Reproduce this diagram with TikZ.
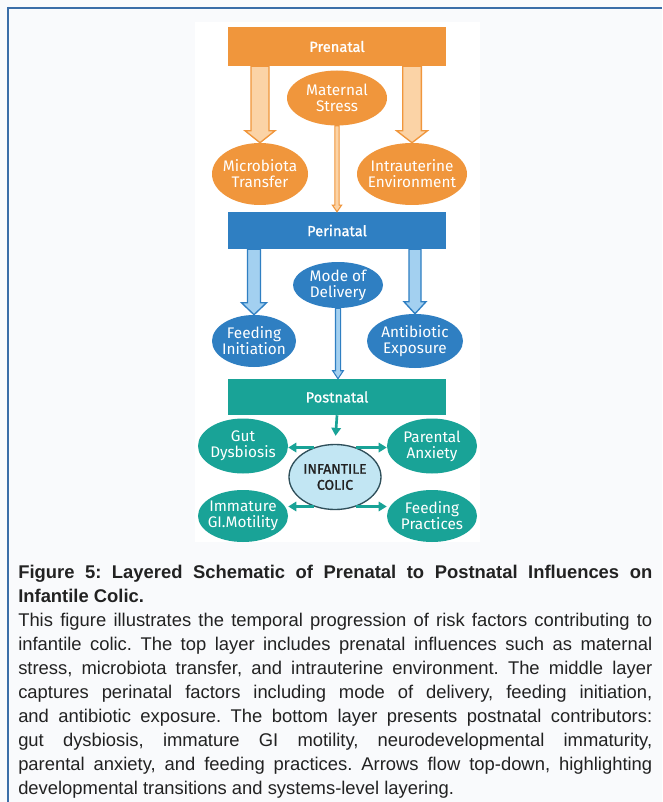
\documentclass[tikz,border=0pt]{standalone}
\usepackage{fontspec}
\setmainfont{Liberation Sans}
\newfontfamily\diagfont{Fira Sans}[BoldFont=Fira Sans, BoldFeatures={FakeBold=1.2}]
\usetikzlibrary{positioning, arrows.meta, shapes.geometric, calc}
\setlength{\parindent}{0pt}
\frenchspacing

\definecolor{preorange}{HTML}{F0963C}
\definecolor{prelight}{HTML}{FBD3A6}
\definecolor{periblue}{HTML}{2F7FC2}
\definecolor{perilight}{HTML}{A3D0F0}
\definecolor{postteal}{HTML}{19A397}
\definecolor{colicfill}{HTML}{C2E6F3}
\definecolor{colicline}{HTML}{2F4F5A}
\definecolor{framecol}{HTML}{3B6EA8}
\definecolor{pagecol}{HTML}{F9FAFC}
\definecolor{captext}{HTML}{222222}

% start, tip, half shaft, half head, head length, style
\newcommand{\blockarrow}[6]{%
  \path[#6] let \p1=(#1), \p2=(#2) in
    (\x1-#3,\y1) -- (\x1-#3,\y2+#5) -- (\x1-#4,\y2+#5) -- (\x1,\y2)
    -- (\x1+#4,\y2+#5) -- (\x1+#3,\y2+#5) -- (\x1+#3,\y1) -- cycle;}

\begin{document}
\begin{tikzpicture}[x=0.75pt, y=-0.75pt,
    bar/.style={minimum width=163.5pt, inner sep=0pt, text=white,
      font=\diagfont\bfseries\fontsize{11}{12}\selectfont},
    ell/.style={ellipse, inner sep=0pt},
    etext/.style={align=center, text=white, font=\diagfont\fontsize{11.5}{12}\selectfont},
    tealarrow/.style={-{Triangle[length=6pt, width=7pt]}, line width=2pt, draw=postteal}]
    \fill[pagecol] (0,0) rectangle (662,802);
    \useasboundingbox (0,0) rectangle (662,802);
    \fill[white] (195,22) rectangle (480,542);
    \draw[framecol, line width=1.5pt] (7,8) -- (662,8);
    \draw[framecol, line width=1.5pt] (8,7) -- (8,802);

    % prenatal layer
    \node (pre) [bar, fill=preorange, minimum height=29.25pt] at (337,46.5) {Prenatal};
    \node (mat) [ell, fill=preorange, minimum width=75pt, minimum height=41.25pt,
      label={[etext]center:Maternal\\Stress}] at (337,98) {};
    \node (micro) [ell, fill=preorange, minimum width=72pt, minimum height=46.5pt,
      label={[etext]center:Microbiota\\Transfer}] at (260,174) {};
    \node (intra) [ell, fill=preorange, minimum width=82.5pt, minimum height=46.5pt,
      label={[etext]center:Intrauterine\\Environment}] at (412,174) {};

    % perinatal layer
    \node (peri) [bar, fill=periblue, minimum height=27.75pt] at (337,230.5) {Perinatal};
    \node (mode) [ell, fill=periblue, minimum width=67.5pt, minimum height=34.5pt,
      label={[etext]center:Mode of\\Delivery}] at (338,285) {};
    \node (feed) [ell, fill=periblue, minimum width=63pt, minimum height=39pt,
      label={[etext]center:Feeding\\Initiation}] at (254,341) {};
    \node (anti) [ell, fill=periblue, minimum width=72pt, minimum height=40.5pt,
      label={[etext]center:Antibiotic\\Exposure}] at (415,341) {};

    % postnatal layer
    \node (post) [bar, fill=postteal, minimum height=27pt] at (337,397) {Postnatal};
    \node (colic) [ell, fill=colicfill, draw=colicline, line width=1pt,
      minimum width=69pt, minimum height=48.75pt,
      label={[etext, text=captext, font=\diagfont\bfseries\fontsize{10.5}{12}\selectfont]center:INFANTILE\\COLIC}] at (335,477) {};
    \node (gut) [ell, fill=postteal, minimum width=67.5pt, minimum height=41.25pt,
      label={[etext]center:Gut\\Dysbiosis}] at (243,446) {};
    \node (anx) [ell, fill=postteal, minimum width=67.5pt, minimum height=41.25pt,
      label={[etext]center:Parental\\Anxiety}] at (432,446) {};
    \node (gi) [ell, fill=postteal, minimum width=67.5pt, minimum height=39pt,
      label={[etext]center:Immature\\GI.Motility}] at (243,516) {};
    \node (prac) [ell, fill=postteal, minimum width=67.5pt, minimum height=39pt,
      label={[etext]center:Feeding\\Practices}] at (432,516) {};

    % block arrows
    \blockarrow{pre.south -| micro.north}{micro.north}{6.75pt}{11.25pt}{9pt}{fill=prelight, draw=preorange, line width=1pt}
    \blockarrow{pre.south -| intra.north}{intra.north}{7pt}{11.6pt}{9pt}{fill=prelight, draw=preorange, line width=1pt}
    \blockarrow{mat.south}{peri.north}{1.6pt}{3.5pt}{5pt}{fill=prelight, draw=preorange, line width=0.8pt}
    \blockarrow{peri.south -| feed.north}{feed.north}{4.9pt}{9.4pt}{9pt}{fill=perilight, draw=periblue, line width=1pt}
    \blockarrow{peri.south -| anti.north}{anti.north}{4.5pt}{8.25pt}{9pt}{fill=perilight, draw=periblue, line width=1pt}
    \blockarrow{mode.south}{post.north}{1.9pt}{4pt}{6pt}{fill=perilight, draw=periblue, line width=0.8pt}

    \draw[tealarrow, shorten >=6pt] (post.south) -- (colic.north);
    \draw[tealarrow] (colic.126) -- (colic.126 -| gut.east);
    \draw[tealarrow] (colic.54) -- (colic.54 -| anx.west);
    \draw[tealarrow] (colic.234) -- (colic.234 -| gi.east);
    \draw[tealarrow] (colic.-54) -- (colic.-54 -| prac.west);

    % caption
    \node (cap) [anchor=north west, text width=475.5pt, align=justify, inner sep=0pt,
      text=captext, font=\fontsize{13.8}{18}\selectfont] at (18,565)
      {\textbf{Figure 5: Layered Schematic of Prenatal to Postnatal Influences on}\linebreak
       \textbf{Infantile Colic.}\\
       This figure illustrates the temporal progression of risk factors contributing to\linebreak
       infantile colic. The top layer includes prenatal influences such as maternal\linebreak
       stress, microbiota transfer, and intrauterine environment. The middle layer\linebreak
       captures perinatal factors including mode of delivery, feeding initiation,\linebreak
       and antibiotic exposure. The bottom layer presents postnatal contributors:\linebreak
       gut dysbiosis, immature GI motility, neurodevelopmental immaturity,\linebreak
       parental anxiety, and feeding practices. Arrows flow top-down, highlighting\linebreak
       developmental transitions and systems-level layering.};
\end{tikzpicture}
\end{document}
